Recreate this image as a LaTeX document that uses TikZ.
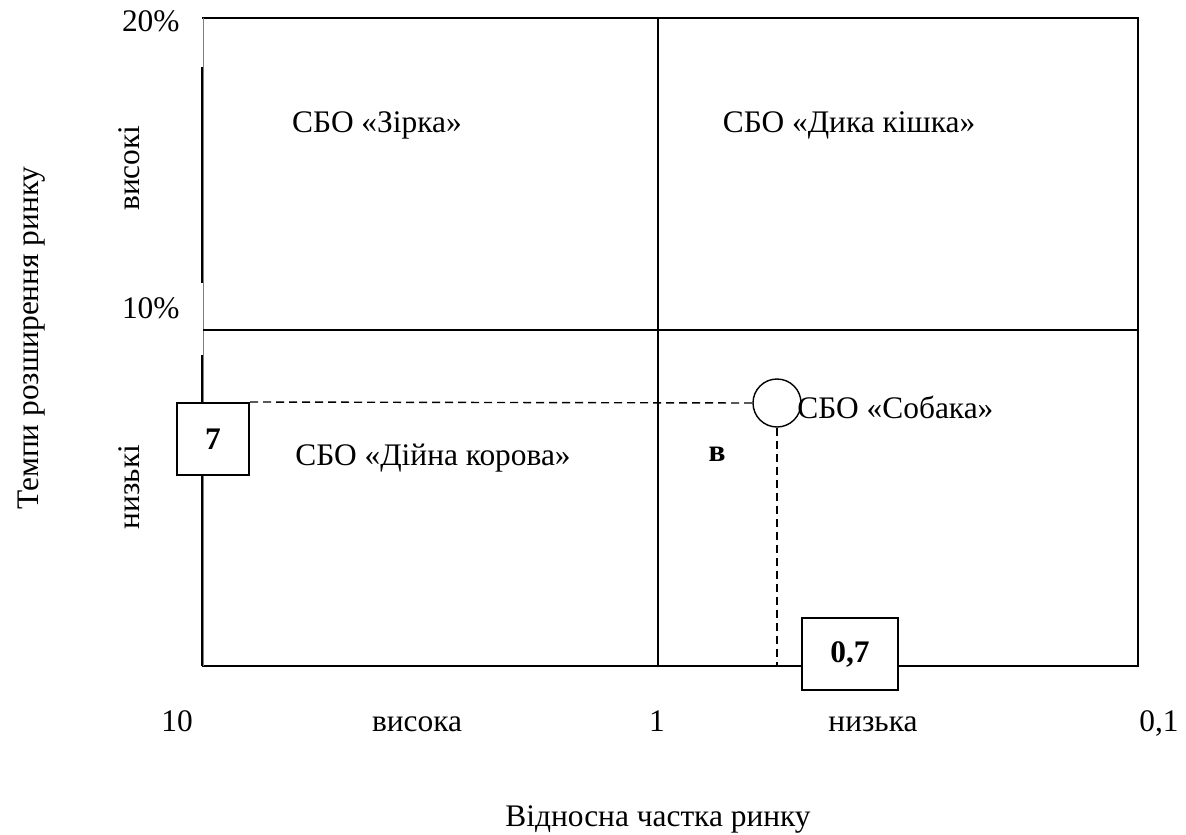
\documentclass[tikz,border=0pt]{standalone}
\usepackage{fontspec}
\setmainfont{Liberation Serif}
\usetikzlibrary{positioning}
\tikzset{
  lbl/.style={inner sep=0pt, anchor=base, font=\fontsize{15.7}{18}\selectfont},
  numbox/.style={draw, line width=1pt, fill=white, inner sep=0pt,
    font=\bfseries\fontsize{15.7}{18}\selectfont},
  guide/.style={dashed, line width=0.7pt, dash pattern=on 4pt off 2.5pt}
}
\begin{document}
\begin{tikzpicture}[x=0.5pt, y=-0.5pt]
  \useasboundingbox (0, 0) rectangle (1186, 834);
  % frame and quadrants
  \draw[line width=1pt] (202, 18) -- (1138, 18) -- (1138, 666) -- (202, 666);
  \draw[gray, line width=0.5pt] (203, 18) -- (203, 666);
  \draw[line width=1pt] (202, 67) -- (202, 283);
  \draw[line width=1pt] (202, 355) -- (202, 666);
  \draw[line width=1pt] (658, 18) -- (658, 666);
  \draw[line width=1pt] (203, 330) -- (1138, 330);

  % axis labels
  \node[lbl, anchor=base east] (p20) at (180, 32) {20\%};
  \node[lbl, anchor=base east] (p10) at (180, 318) {10\%};
  \node[lbl, rotate=90] (high) at (139, 168) {високі};
  \node[lbl, rotate=90] (low) at (139, 487) {низькі};
  \node[lbl, rotate=90] (growth) at (38, 338) {Темпи розширення ринку};
  \node[lbl] (s10) at (177, 731) {10};
  \node[lbl] (shigh) at (417, 731) {висока};
  \node[lbl] (s1) at (657, 731) {1};
  \node[lbl] (slow) at (873, 731) {низька};
  \node[lbl] (s01) at (1159, 731) {0,1};
  \node[lbl] (share) at (658, 826) {Відносна частка ринку};

  % quadrant names
  \node[lbl] (star) at (377, 133) {СБО «Зірка»};
  \node[lbl] (cat) at (849, 133) {СБО «Дика кішка»};
  \node[lbl] (cow) at (433, 465) {СБО «Дійна корова»};

  % position of the unit
  \node[draw, circle, line width=0.7pt, fill=white, minimum size=24pt,
    inner sep=0pt] (dot) at (777, 403) {};
  \node[lbl, anchor=base west] (dog) at (797, 418) {СБО «Собака»};
  \node[lbl, font=\bfseries\fontsize{15.7}{18}\selectfont] (b) at (717, 461) {в};
  \coordinate (foot) at (777, 666);
  \node[numbox, minimum width=36pt, minimum height=36pt] (seven) at (213, 439) {7};
  \node[numbox, minimum width=48pt, minimum height=36pt] (share07) at (850, 654) {0,7};
  \draw[guide] (seven.north east) -- (dot.west);
  \draw[guide] (dot.south) -- (foot);
\end{tikzpicture}
\end{document}
